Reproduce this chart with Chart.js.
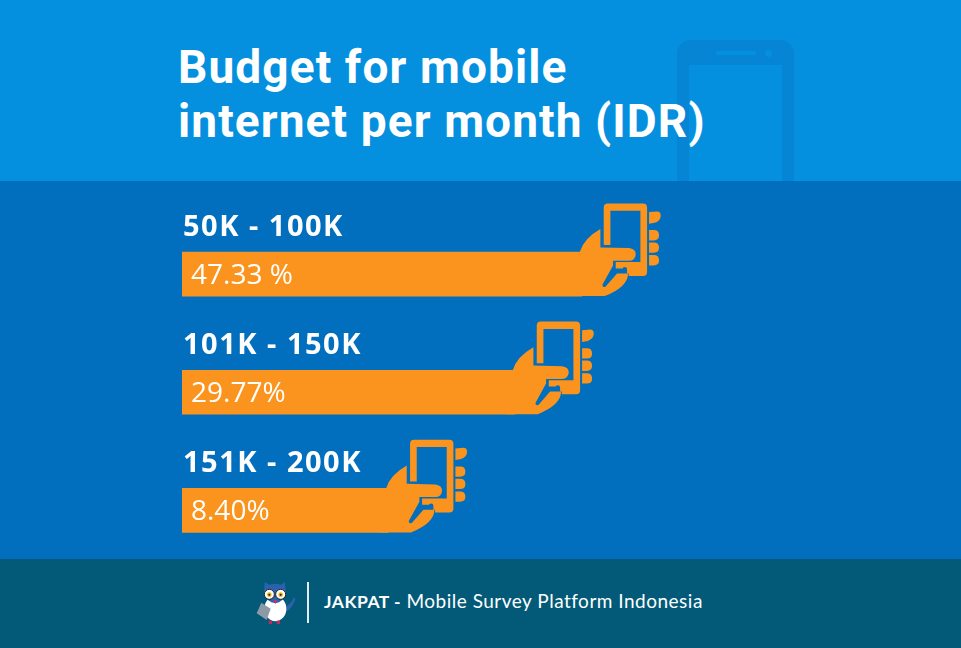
<!DOCTYPE html>
<html>
<head>
<meta charset="utf-8">
<title>Budget for mobile internet per month (IDR)</title>
<script src="https://cdn.jsdelivr.net/npm/chart.js@4"></script>
<style>
    html, body { margin: 0; padding: 0; background: #016fbe; }
    #page { position: relative; width: 961px; height: 648px; overflow: hidden; background: #016fbe; }
    #top { position: absolute; left: 0; top: 0; width: 961px; height: 181px; background: #0590df; overflow: hidden; }
    #phone { position: absolute; left: 677px; top: 40px; width: 117px; height: 160px; background: #0585d3; border-radius: 14px; }
    #screen { position: absolute; left: 12px; top: 25px; width: 93px; height: 140px; background: #0590df; }
    #speaker { position: absolute; left: 39px; top: 11px; width: 40px; height: 4px; background: #0590df; }
    #camera { position: absolute; left: 88px; top: 10px; width: 7px; height: 7px; border-radius: 50%; background: #0590df; }
    #title { position: absolute; left: 178px; top: 40px; margin: 0; color: #fff; font: 700 46px/54px Roboto; letter-spacing: 1.1px; white-space: nowrap; }
    #bottom { position: absolute; left: 0; top: 559px; width: 961px; height: 89px; background: #025a78; }
    #owl { position: absolute; left: 250px; top: 19px; }
    #line { position: absolute; left: 307px; top: 23px; width: 2px; height: 41px; background: #e4eef2; }
    #brand { position: absolute; left: 324px; top: 30px; color: #fff; font: 400 19px/24px Lato; letter-spacing: 0.5px; white-space: nowrap; }
    #brand b { font-size: 17.5px; font-weight: 700; }
    canvas { position: absolute; left: 0; top: 0; }
</style>
</head>
<body>
<div id="page">
    <div id="top">
        <div id="phone"><div id="speaker"></div><div id="camera"></div><div id="screen"></div></div>
        <h1 id="title">Budget for mobile<br>internet per month (IDR)</h1>
    </div>
    <div id="bottom">
        <svg id="owl" width="50" height="50" viewBox="0 0 150 150">
            <path d="M100 88 Q122 82 132 58 L136 62 Q128 92 104 104 Z" fill="#2a62b0"/>
            <ellipse cx="76" cy="92" rx="33" ry="38" fill="#fff"/>
            <path d="M44 12 L58 20 Q76 14 92 20 L104 12 L108 46 Q100 74 76 76 Q50 74 42 46 Z" fill="#2a62b0"/>
            <circle cx="58" cy="49" r="15" fill="#fff" stroke="#222" stroke-width="3"/>
            <circle cx="92" cy="49" r="15" fill="#fff" stroke="#222" stroke-width="3"/>
            <circle cx="58" cy="50" r="7" fill="#e8b81e"/>
            <circle cx="92" cy="50" r="7" fill="#e8b81e"/>
            <circle cx="58" cy="50" r="3" fill="#222"/>
            <circle cx="92" cy="50" r="3" fill="#222"/>
            <path d="M70 66 L82 66 L76 78 Z" fill="#d82a6a"/>
            <path d="M34 74 L62 92 L50 126 L20 106 Z" fill="#8d9aa5"/>
            <rect x="56" y="128" width="10" height="10" fill="#c4285f"/>
            <rect x="80" y="128" width="10" height="10" fill="#c4285f"/>
        </svg>
        <div id="line"></div>
        <div id="brand"><b>JAKPAT -</b> Mobile Survey Platform Indonesia</div>
    </div>
    <canvas id="budgetChart" width="961" height="648"></canvas>
</div>

<script>
const budgetRanges = ['50K - 100K', '101K - 150K', '151K - 200K'];
const shareLabels = ['47.33 %', '29.77%', '8.40%'];
// the bars in the original are not to scale, so this is the length as pictured
const barLengths = [47.33, 39.4, 24.4];

const orange = '#fa941e';

// hand holding a phone (coordinates are 3x pixels)
function drawHand(ctx, barEnd, barTop) {
    ctx.save();
    ctx.translate(barEnd - 22, barTop - 62);
    ctx.scale(1 / 3, 1 / 3);
    ctx.fillStyle = orange;

    // palm and thumb
    ctx.beginPath();
    ctx.moveTo(40, 186);
    ctx.lineTo(60, 186);
    ctx.quadraticCurveTo(72, 145, 122, 117);
    ctx.lineTo(122, 172);
    ctx.lineTo(208, 174);
    ctx.quadraticCurveTo(228, 176, 228, 193);
    ctx.quadraticCurveTo(226, 212, 208, 212);
    ctx.lineTo(160, 212);
    ctx.lineTo(160, 226);
    ctx.lineTo(128, 284);
    ctx.quadraticCurveTo(128, 293, 137, 290);
    ctx.lineTo(172, 250);
    ctx.lineTo(205, 250);
    ctx.quadraticCurveTo(205, 290, 135, 318);
    ctx.lineTo(40, 318);
    ctx.closePath();
    ctx.fill();

    // phone body, the screen is open towards the thumb
    ctx.beginPath();
    ctx.moveTo(132, 165);
    ctx.lineTo(132, 52);
    ctx.quadraticCurveTo(132, 40, 144, 40);
    ctx.lineTo(250, 40);
    ctx.quadraticCurveTo(262, 40, 262, 52);
    ctx.lineTo(262, 246);
    ctx.quadraticCurveTo(262, 258, 250, 258);
    ctx.lineTo(207, 258);
    ctx.lineTo(207, 250);
    ctx.lineTo(202, 250);
    ctx.lineTo(202, 238);
    ctx.arc(195, 238, 7, 0, Math.PI, true);
    ctx.lineTo(188, 235);
    ctx.lineTo(168, 235);
    ctx.lineTo(168, 216);
    ctx.lineTo(242, 216);
    ctx.lineTo(242, 62);
    ctx.lineTo(152, 62);
    ctx.lineTo(152, 165);
    ctx.closePath();
    ctx.fill();

    // fingers behind the phone
    ctx.beginPath();
    ctx.moveTo(268, 66);
    ctx.lineTo(292, 64);
    ctx.quadraticCurveTo(303, 64, 303, 76);
    ctx.quadraticCurveTo(303, 92, 285, 98);
    ctx.lineTo(268, 101);
    ctx.closePath();
    [[120, 151], [157, 188], [195, 226]].forEach(([y0, y1]) => {
        const mid = (y0 + y1) / 2;
        ctx.moveTo(268, y0);
        ctx.lineTo(282, y0);
        ctx.quadraticCurveTo(298, y0, 298, mid);
        ctx.quadraticCurveTo(298, y1, 282, y1);
        ctx.lineTo(268, y1);
        ctx.closePath();
    });
    ctx.fill();
    ctx.restore();
}

// labels and hands are hung on the bars once the chart has drawn them
const barDecorations = {
    id: 'barDecorations',
    afterDatasetsDraw(chart) {
        const ctx = chart.ctx;
        chart.getDatasetMeta(0).data.forEach((bar, i) => {
            const barTop = bar.y - bar.height / 2;
            drawHand(ctx, bar.x, barTop);

            ctx.save();
            ctx.fillStyle = '#fff';
            ctx.textBaseline = 'alphabetic';
            ctx.font = '700 29px "Noto Sans"';
            ctx.letterSpacing = '1.5px';
            ctx.fillText(budgetRanges[i], 183, barTop - 16);
            ctx.font = '400 28px "Open Sans"';
            ctx.letterSpacing = '0px';
            ctx.fillText(shareLabels[i], 191, barTop + 32);
            ctx.restore();
        });
    }
};

new Chart(document.getElementById('budgetChart').getContext('2d'), {
    type: 'bar',
    data: {
        labels: budgetRanges,
        datasets: [{
            data: barLengths,
            backgroundColor: orange,
            borderWidth: 0,
            barThickness: 44
        }]
    },
    options: {
        indexAxis: 'y',
        responsive: false,
        animation: false,
        layout: { padding: { left: 182, right: 2, top: 215, bottom: 78.5 } },
        scales: {
            x: { display: false, min: 0, max: 92 },
            y: { display: false }
        },
        plugins: {
            legend: { display: false },
            tooltip: { enabled: false }
        }
    },
    plugins: [barDecorations]
});
</script>
</body>
</html>
